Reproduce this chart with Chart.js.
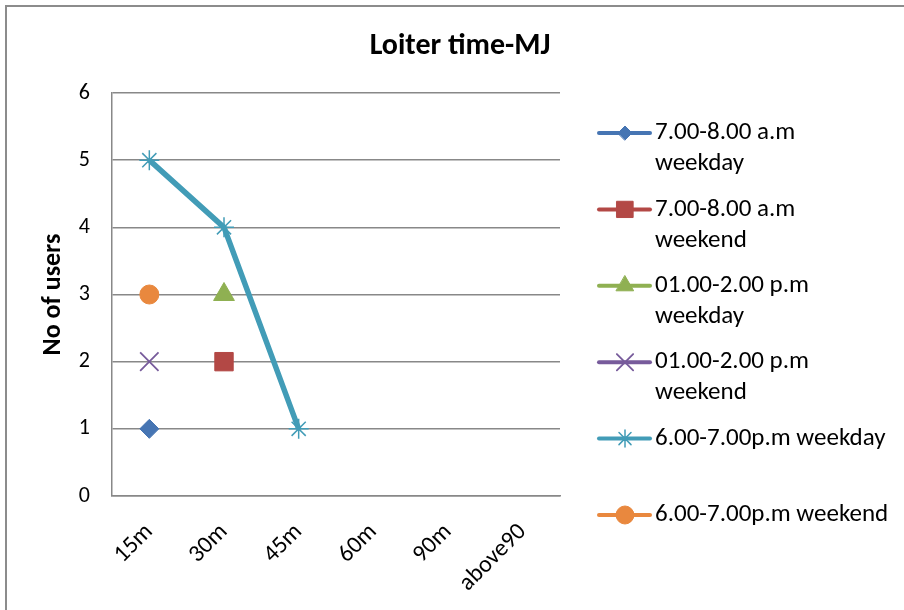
<!DOCTYPE html>
<html>
<head>
<meta charset="utf-8">
<script src="https://cdn.jsdelivr.net/npm/chart.js@4.4.1/dist/chart.umd.min.js"></script>
<style>
  html, body { margin: 0; padding: 0; background: #fff; }
  #wrap { position: relative; width: 904px; height: 610px; }
</style>
</head>
<body>
<div id="wrap"><canvas id="chart" width="904" height="610"></canvas></div>
<script>
// data
const categories = ['15m', '30m', '45m', '60m', '90m', 'above90'];
const amWeekday   = [1, null, null, null, null, null];
const amWeekend   = [null, 2, null, null, null, null];
const noonWeekday = [null, 3, null, null, null, null];
const noonWeekend = [2, null, null, null, null, null];
const pmWeekday   = [5, 4, 1, null, null, null];
const pmWeekend   = [3, null, null, null, null, null];
const seriesNames = [
    '7.00-8.00 a.m weekday',
    '7.00-8.00 a.m weekend',
    '01.00-2.00 p.m weekday',
    '01.00-2.00 p.m weekend',
    '6.00-7.00p.m weekday',
    '6.00-7.00p.m weekend'
];
// legend text as it is broken in the picture
const legendLines = [
    ['7.00-8.00 a.m', 'weekday'],
    ['7.00-8.00 a.m', 'weekend'],
    ['01.00-2.00 p.m', 'weekday'],
    ['01.00-2.00 p.m', 'weekend'],
    ['6.00-7.00p.m weekday'],
    ['6.00-7.00p.m weekend']
];
const yTicks = [0, 1, 2, 3, 4, 5, 6];
const chartTitle = 'Loiter time-MJ';
const yTitle = 'No of users';

const FONT = 'Carlito, Lato, "Open Sans", sans-serif';
const GRID = '#888888';

function series(label, data, color, style, radius, width, legendRadius) {
    return {
        label: label,
        data: data,
        borderColor: color,
        backgroundColor: color,
        borderWidth: 5.5,
        pointStyle: style,
        pointRadius: radius,
        pointHoverRadius: radius,
        pointBorderWidth: width,
        pointBackgroundColor: color,
        pointBorderColor: color,
        legendRadius: legendRadius,
        spanGaps: false,
        tension: 0
    };
}

const datasets = [
    series(seriesNames[0], amWeekday,   '#4675B3', 'rectRot',  9.5, 1,   7),
    series(seriesNames[1], amWeekend,   '#B34845', 'rect',     13,  1,   11.5),
    series(seriesNames[2], noonWeekday, '#8FB052', 'triangle', 12,  1,   10),
    series(seriesNames[3], noonWeekend, '#775B9B', 'crossRot', 13,  1.8, 11.5),
    series(seriesNames[4], pmWeekday,   '#429CB7', 'star',     10,  1.5, 8.5),
    series(seriesNames[5], pmWeekend,   '#E9883E', 'circle',   9.5, 1,   9)
];

// frame, title and the wrapped legend
const decorations = {
    id: 'decorations',
    beforeDraw(chart) {
        const ctx = chart.ctx;
        ctx.save();
        ctx.fillStyle = '#fff';
        ctx.fillRect(0, 0, chart.width, chart.height);
        ctx.strokeStyle = '#8c8c8c';
        ctx.lineWidth = 2;
        ctx.strokeRect(6, 6, 1200, 1200);
        ctx.restore();
    },
    afterDraw(chart) {
        const ctx = chart.ctx;
        ctx.save();
        ctx.fillStyle = '#000';
        ctx.font = 'bold 30px ' + FONT;
        ctx.textAlign = 'center';
        ctx.textBaseline = 'middle';
        ctx.fillText(chartTitle, 460, 46);

        ctx.font = '25px ' + FONT;
        ctx.textAlign = 'left';
        chart.data.datasets.forEach((ds, i) => {
            const y = 133 + i * 76.4;
            ctx.strokeStyle = ds.borderColor;
            ctx.lineWidth = 4;
            ctx.lineCap = 'round';
            ctx.beginPath();
            ctx.moveTo(599, y);
            ctx.lineTo(650, y);
            ctx.stroke();
            ctx.fillStyle = ds.pointBackgroundColor;
            ctx.strokeStyle = ds.pointBorderColor;
            ctx.lineWidth = ds.pointBorderWidth;
            Chart.helpers.drawPoint(ctx, {
                pointStyle: ds.pointStyle,
                radius: ds.legendRadius,
                borderWidth: ds.pointBorderWidth,
                rotation: 0
            }, 625, y);
            ctx.fillStyle = '#000';
            legendLines[i].forEach((line, k) => {
                ctx.fillText(line, 655, y + k * 31);
            });
        });
        ctx.restore();
    }
};

const chart = new Chart(document.getElementById('chart'), {
    type: 'line',
    data: { labels: categories, datasets: datasets },
    plugins: [decorations],
    options: {
        responsive: false,
        animation: false,
        layout: { padding: { top: 93, right: 344, bottom: 0, left: 0 } },
        plugins: {
            legend: { display: false },
            title: { display: false },
            tooltip: { enabled: false }
        },
        scales: {
            x: {
                offset: true,
                grid: { display: false, drawTicks: false },
                border: { display: true, color: GRID, width: 1.5 },
                ticks: {
                    color: '#000',
                    font: { family: FONT, size: 24 },
                    maxRotation: 45,
                    minRotation: 45,
                    padding: 22,
                    autoSkip: false
                },
                afterFit: s => { s.height = 114; }
            },
            y: {
                min: 0,
                max: 6,
                afterBuildTicks: s => { s.ticks = yTicks.map(v => ({ value: v })); },
                grid: { color: GRID, lineWidth: 1.5, drawTicks: false },
                border: { display: true, color: GRID, width: 1.5 },
                ticks: {
                    color: '#000',
                    font: { family: FONT, size: 22 },
                    padding: 22
                },
                title: {
                    display: true,
                    text: yTitle,
                    color: '#000',
                    font: { family: FONT, size: 26, weight: 'bold' },
                    padding: { top: 38, bottom: 0 }
                },
                afterFit: s => { s.width = 112; }
            }
        }
    }
});
</script>
</body>
</html>
